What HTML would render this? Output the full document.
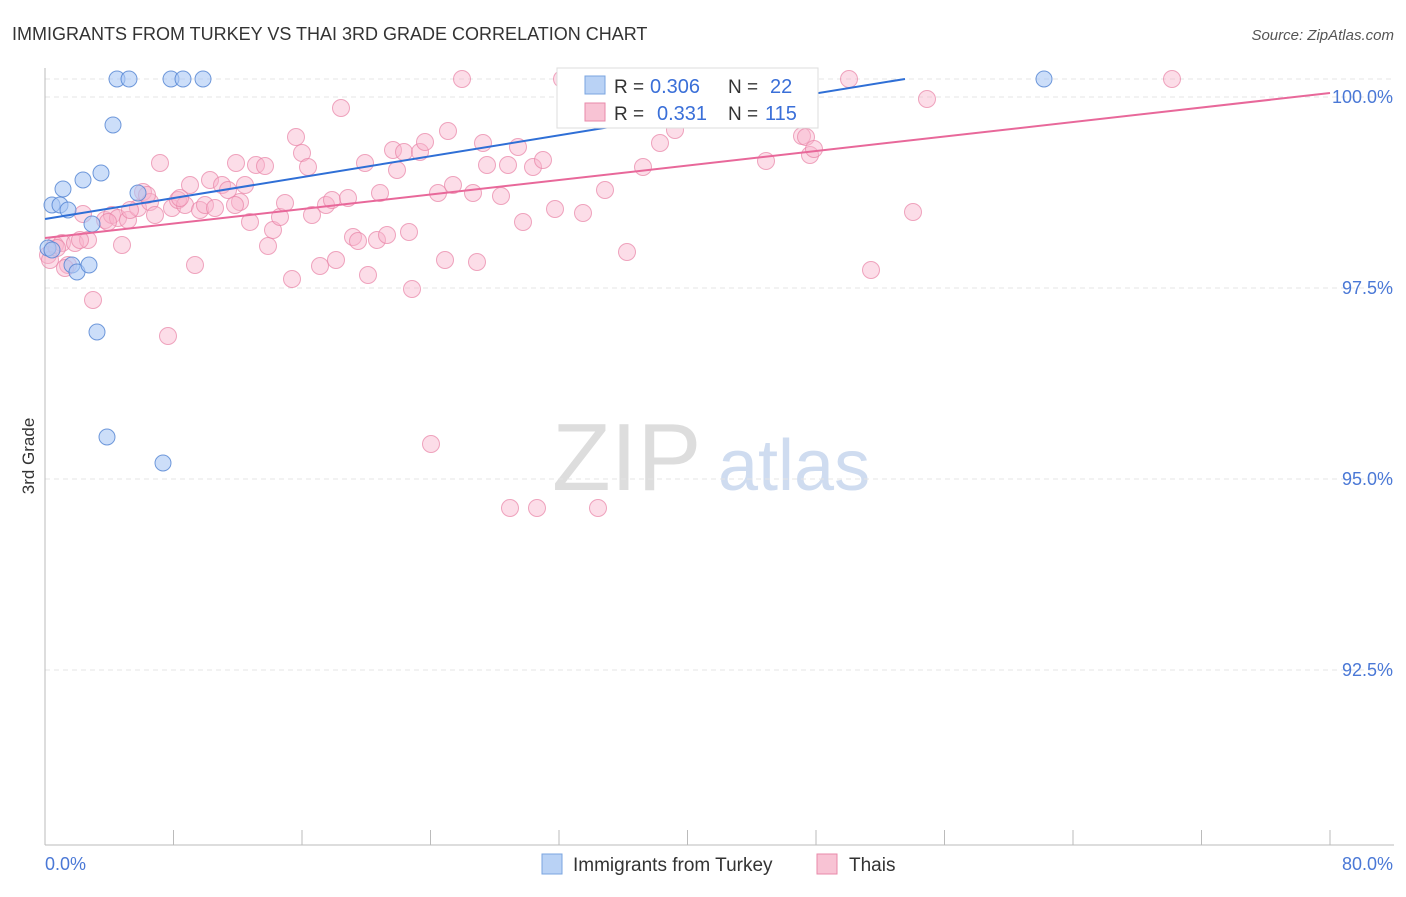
<!DOCTYPE html>
<html><head><meta charset="utf-8"><style>
body{margin:0;background:#fff;font-family:"Liberation Sans",sans-serif}
svg text{font-family:"Liberation Sans",sans-serif}
</style></head><body>
<svg id="c" width="1406" height="892">
<text x="12" y="40" font-size="18" fill="#333">IMMIGRANTS FROM TURKEY VS THAI 3RD GRADE CORRELATION CHART</text>
<text x="1394" y="40" font-size="15" fill="#555" text-anchor="end" font-style="italic">Source: ZipAtlas.com</text>
<text x="34" y="456" font-size="17" fill="#333" transform="rotate(-90 34 456)" text-anchor="middle">3rd Grade</text>
<text x="552" y="490" font-size="96" fill="#ddd" font-family="Liberation Serif">ZIP</text>
<text x="718" y="490" font-size="72" fill="#cfdcf0">atlas</text>
<g id="grid"></g><g id="pts"></g><g id="lines"></g>
<g>
<rect x="557" y="68" width="261" height="60" fill="#fff" stroke="#ddd"/>
<rect x="585" y="76" width="20" height="18" fill="#b9d2f5" stroke="#7aa4e0"/>
<text x="614" y="93" font-size="19" fill="#333">R =</text>
<text x="650" y="93" font-size="20" fill="#3a6fd8">0.306</text>
<text x="728" y="93" font-size="19" fill="#333">N =</text>
<text x="770" y="93" font-size="20" fill="#3a6fd8">22</text>
<rect x="585" y="103" width="20" height="18" fill="#f8c3d4" stroke="#e88aaa"/>
<text x="614" y="120" font-size="19" fill="#333">R =</text>
<text x="657" y="120" font-size="20" fill="#3a6fd8">0.331</text>
<text x="728" y="120" font-size="19" fill="#333">N =</text>
<text x="765" y="120" font-size="20" fill="#3a6fd8">115</text>
</g>
<g>
<rect x="542" y="854" width="20" height="20" fill="#b9d2f5" stroke="#7aa4e0"/>
<text x="573" y="871" font-size="19" fill="#333">Immigrants from Turkey</text>
<rect x="817" y="854" width="20" height="20" fill="#f8c3d4" stroke="#e88aaa"/>
<text x="849" y="871" font-size="19" fill="#333">Thais</text>
</g>
</svg>
<script>
const yTicks=[100,97.5,95,92.5];
const yTickLabels=["100.0%","97.5%","95.0%","92.5%"];
const xLabels=["0.0%","80.0%"];
const bluePx=[[52,205],[60,205],[63,189],[68,210],[83,180],[101,173],[92,224],[113,125],[117,79],[129,79],[138,193],[171,79],[183,79],[203,79],[48,248],[52,250],[72,265],[77,272],[89,265],[97,332],[107,437],[163,463],[1044,79]];
const pinkPx=[[48,255],[55,245],[62,243],[68,265],[75,243],[83,214],[88,240],[93,300],[105,220],[112,215],[118,218],[122,245],[128,220],[138,208],[143,192],[150,202],[155,215],[160,163],[168,336],[172,208],[178,200],[185,205],[190,185],[195,265],[200,210],[205,205],[210,180],[215,208],[222,185],[228,190],[236,163],[240,202],[245,185],[250,222],[256,165],[265,166],[268,246],[273,230],[280,217],[285,203],[292,279],[296,137],[302,153],[308,167],[312,215],[320,266],[326,205],[332,200],[336,260],[341,108],[348,198],[353,237],[358,241],[365,163],[368,275],[377,240],[380,193],[387,235],[393,150],[397,170],[404,152],[409,232],[412,289],[420,152],[425,142],[431,444],[438,193],[445,260],[448,131],[453,185],[462,79],[473,193],[477,262],[483,143],[487,165],[501,196],[508,165],[510,508],[518,147],[523,222],[533,167],[537,508],[543,160],[555,209],[562,79],[568,119],[575,79],[583,213],[598,508],[605,190],[627,252],[643,167],[660,143],[675,130],[678,113],[690,79],[712,79],[742,79],[766,161],[802,136],[806,137],[810,155],[814,149],[849,79],[871,270],[913,212],[927,99],[1172,79],[50,260],[57,248],[65,268],[80,240],[108,222],[130,210],[147,195],[235,205],[180,198]];
const X0=45,X1=1330,Y100=97,PPU=76.4;
const toX=p=>(p-X0)/(X1-X0)*80, toY=p=>100-(p-Y100)/PPU;
const blueData=bluePx.map(p=>[toX(p[0]),toY(p[1])]);
const pinkData=pinkPx.map(p=>[toX(p[0]),toY(p[1])]);
const blueLine=[[0,98.403],[53.54,100.236]];
const pinkLine=[[0,98.154],[80,100.052]];
const sx=v=>X0+v/80*(X1-X0), sy=v=>Y100+(100-v)*PPU;
const NS="http://www.w3.org/2000/svg";
function mk(t,a,parent){const e=document.createElementNS(NS,t);for(const k in a)e.setAttribute(k,a[k]);parent.appendChild(e);return e;}
const g=document.getElementById('grid');
yTicks.forEach((t,i)=>{
 const l=mk('line',{x1:45,x2:1394,y1:sy(t),y2:sy(t),stroke:'#e4e4e4','stroke-dasharray':'5,4'},g);
 
 
 const tx=mk('text',{x:1393,y:sy(t)+6,'font-size':18,fill:'#4a78d6','text-anchor':'end'},g);
 tx.textContent=yTickLabels[i];
 
 
});
mk('line',{x1:45,x2:1394,y1:79,y2:79,stroke:'#e4e4e4','stroke-dasharray':'5,4'},g);
const ax=mk('line',{x1:45,x2:45,y1:68,y2:845,stroke:'#bbb'},g);


const bx=mk('line',{x1:45,x2:1394,y1:845,y2:845,stroke:'#bbb'},g);


for(let i=0;i<=10;i++){const px=45+i*128.5;const t=mk('line',{x1:px,x2:px,y1:830,y2:845,stroke:'#bbb'},g);
 
 }
[[45,'start'],[1393,'end']].forEach((o,i)=>{const t=mk('text',{x:o[0],y:870,'font-size':18,fill:'#4a78d6','text-anchor':o[1]},g);t.textContent=xLabels[i];
 
 });
const pg=document.getElementById('pts');
pinkData.forEach(d=>{const c=mk('circle',{cx:sx(d[0]),cy:sy(d[1]),r:8.5,fill:'rgba(248,180,205,0.45)',stroke:'rgba(232,130,165,0.7)','stroke-width':1},pg);
 
 });
blueData.forEach(d=>{const c=mk('circle',{cx:sx(d[0]),cy:sy(d[1]),r:8,fill:'rgba(170,200,245,0.6)',stroke:'rgba(80,130,210,0.8)','stroke-width':1},pg);
 
 });
const lg=document.getElementById('lines');
const bl=mk('line',{x1:sx(blueLine[0][0]),y1:sy(blueLine[0][1]),x2:sx(blueLine[1][0]),y2:sy(blueLine[1][1]),stroke:'#2f6fd6','stroke-width':2},lg);


const pl=mk('line',{x1:sx(pinkLine[0][0]),y1:sy(pinkLine[0][1]),x2:sx(pinkLine[1][0]),y2:sy(pinkLine[1][1]),stroke:'#e8689a','stroke-width':2},lg);


</script>
</body></html>
